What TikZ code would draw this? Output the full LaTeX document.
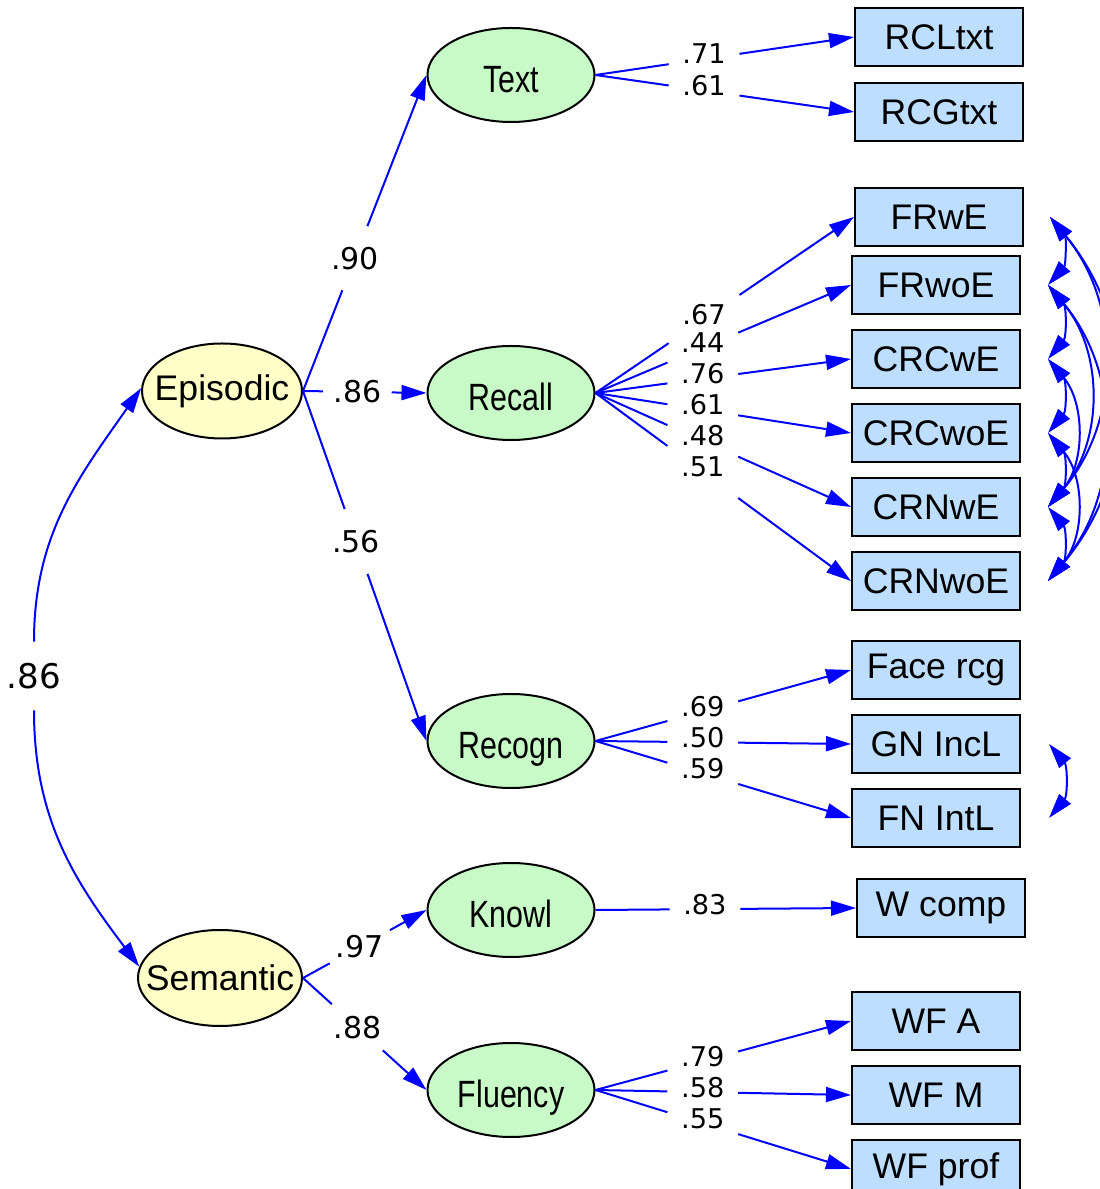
\documentclass[tikz,border=0pt]{standalone}
\usepackage{fontspec}
\setmainfont{Liberation Sans}
\newfontfamily\narrowfont{Liberation Sans}[FakeStretch=0.8]
\newfontfamily\numfont{DejaVu Sans}
\usetikzlibrary{arrows.meta, positioning, shapes.geometric}

\definecolor{obsblue}{RGB}{190,222,255}
\definecolor{latgreen}{RGB}{200,250,200}
\definecolor{facyellow}{RGB}{255,255,200}

\tikzset{
  obs/.style={draw=black, line width=1pt, fill=obsblue,
    minimum width=84pt, minimum height=29pt, inner sep=0pt,
    font=\fontsize{17.8}{20}\selectfont},
  lat/.style={ellipse, draw=black, line width=1pt, fill=latgreen,
    minimum width=83.5pt, minimum height=47pt, inner sep=0pt,
    text height=18pt, text depth=0pt,
    font=\narrowfont\fontsize{19}{22}\selectfont},
  fac/.style={ellipse, draw=black, line width=1pt, fill=facyellow,
    minimum width=80pt, minimum height=47.5pt, inner sep=0pt,
    font=\fontsize{17.8}{20}\selectfont},
  link/.style={draw=blue, line width=1pt},
  arr/.style={-{Triangle[length=12.5pt,width=7.5pt]}},
  arrboth/.style={{Triangle[length=12.5pt,width=7.5pt]}-{Triangle[length=12.5pt,width=7.5pt]}},
  coef/.style={circle, minimum size=34pt, inner sep=0pt,
    font=\numfont\fontsize{15}{18}\selectfont},
  loadlab/.style={rectangle, minimum width=35pt, minimum height=60pt,
    inner sep=0pt, text depth=5pt, font=\numfont\fontsize{13.6}{16}\selectfont},
}

\begin{document}
\begin{tikzpicture}[x=0.5pt, y=0.5pt]
\useasboundingbox (0,0) rectangle (1099,1189);

% second order factors
\node[fac] (epi) at (222,798) {\makebox[0pt]{Episodic}};
\node[fac, minimum width=82pt, minimum height=48pt] (sem) at (220,211) {\makebox[0pt]{Semantic}};

% first order factors
\node[lat] (txt) at (511,1114) {Text};
\node[lat] (recall) at (511,796) {Recall};
\node[lat] (recogn) at (511,448) {Recogn};
\node[lat] (knowl) at (511,279) {Knowl};
\node[lat] (fluency) at (511,99) {Fluency};

% observed variables
\node[obs] (rcltxt) at (939,1152) {RCLtxt};
\node[obs, below=7.5pt of rcltxt] (rcgtxt) {RCGtxt};

\node[obs] (frwe) at (939,972) {FRwE};
\node[obs] (frwoe) at (936,904) {FRwoE};
\node[obs, below=7pt of frwoe] (crcwe) {CRCwE};
\node[obs, below=7pt of crcwe] (crcwoe) {CRCwoE};
\node[obs, below=7pt of crcwoe] (crnwe) {CRNwE};
\node[obs, below=7pt of crnwe] (crnwoe) {CRNwoE};

\node[obs] (facercg) at (936,519) {Face rcg};
\node[obs, below=7pt of facercg] (gnincl) {GN IncL};
\node[obs, below=7pt of gnincl] (fnintl) {FN IntL};

\node[obs] (wcomp) at (941,281) {W comp};

\node[obs] (wfa) at (936,168) {WF A};
\node[obs, below=7pt of wfa] (wfm) {WF M};
\node[obs, below=7pt of wfm] (wfprof) {WF prof};

% structural paths
\foreach \src/\dst/\val/\p in {epi/txt/.90/.42, epi/recall/.86/.44, epi/recogn/.56/.43,
    sem/knowl/.97/.46, sem/fluency/.88/.44} {
  \path (\src.east) -- (\dst.west) node[coef, pos=\p] (c) {\val};
  \draw[link] (\src.east) -- (c);
  \draw[link, arr] (c) -- (\dst.west);
}

% loadings
\foreach \src/\dst/\val in {txt/rcltxt/.71, txt/rcgtxt/.61,
    recall/frwe/.67, recall/frwoe/.44, recall/crcwe/.76,
    recall/crcwoe/.61, recall/crnwe/.48, recall/crnwoe/.51,
    recogn/facercg/.69, recogn/gnincl/.50, recogn/fnintl/.59,
    knowl/wcomp/.83,
    fluency/wfa/.79, fluency/wfm/.58, fluency/wfprof/.55} {
  \path (\src.east) -- (\dst.west) node[loadlab, pos=.42] (l) {\val};
  \draw[link] (\src.east) -- (l);
  \draw[link, arr] (l) -- (\dst.west);
}

% correlation of the factors
\node[coef, font=\numfont\fontsize{17}{20}\selectfont] (r86) at (34,513) {.86};
\draw[link, arr] (r86) to[out=-90, in=127] (sem.172);
\draw[link, arr] (r86) to[out=90, in=-125] (epi.178);

% correlated errors
\coordinate (e1) at ([xshift=13pt]frwe.east);
\coordinate (e2) at ([xshift=13.5pt]frwoe.east);
\coordinate (e3) at ([xshift=13.5pt]crcwe.east);
\coordinate (e4) at ([xshift=13.5pt]crcwoe.east);
\coordinate (e5) at ([xshift=13.5pt]crnwe.east);
\coordinate (e6) at ([xshift=13.5pt]crnwoe.east);
\coordinate (e7) at ([xshift=14pt]gnincl.east);
\coordinate (e8) at ([xshift=14pt]fnintl.east);

\foreach \a/\b in {e1/e2, e1/e5, e1/e6, e2/e3, e2/e5, e2/e6,
    e3/e4, e3/e5, e4/e5, e4/e6, e5/e6, e7/e8}
  \draw[link, arrboth] (\a) to[bend left=40] (\b);
\end{tikzpicture}
\end{document}
